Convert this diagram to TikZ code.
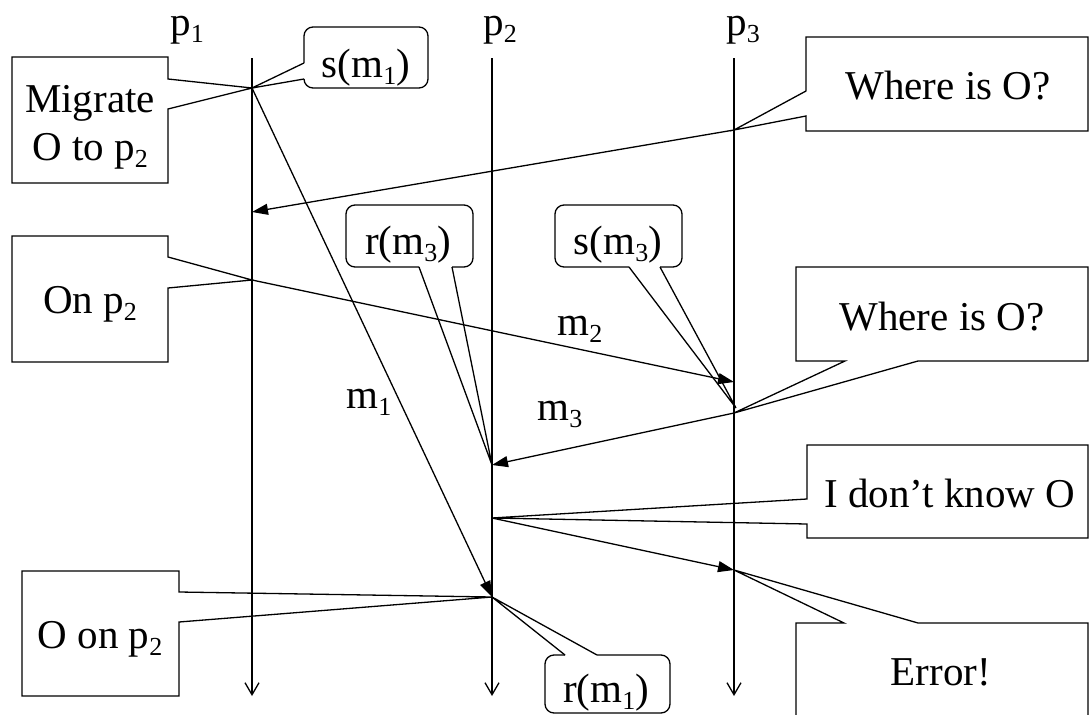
\documentclass[tikz,border=0pt]{standalone}
\usepackage{fontspec}
\setmainfont{Liberation Serif}
\usetikzlibrary{arrows.meta}
\newcommand\sbs[1]{\raisebox{-7pt}{\fontsize{26}{26}\selectfont #1}}
\begin{document}
\begin{tikzpicture}[x=1pt,y=-1pt,
  lbl/.style={font=\fontsize{41}{48}\selectfont, inner sep=0pt, anchor=base},
  life/.style={line width=1.3pt, -{Straight Barb[length=12pt,width=14pt,line width=1.3pt]}},
  msg/.style={line width=1.3pt, -{Triangle[length=16pt,width=11pt]}},
  callout/.style={line width=1.3pt, line join=miter},
  rcallout/.style={line width=1.3pt, rounded corners=9pt},
]
\useasboundingbox (0,0) rectangle (1090,715);
\clip (0,0) rectangle (1090,715);

% lifelines
\coordinate (t1) at (252,58); \coordinate (b1) at (252,696);
\coordinate (t2) at (492,58); \coordinate (b2) at (492,696);
\coordinate (t3) at (734,58); \coordinate (b3) at (734,696);
\draw[life] (t1) -- (b1);
\draw[life] (t2) -- (b2);
\draw[life] (t3) -- (b3);
\node[lbl] (p1) at (187,35) {p\sbs{1}};
\node[lbl] (p2) at (500,35) {p\sbs{2}};
\node[lbl] (p3) at (743,35) {p\sbs{3}};

% events
\coordinate (sm1) at (252,88);
\coordinate (rw) at (252,212);
\coordinate (sm2) at (252,280);
\coordinate (sw) at (734,130);
\coordinate (rm2) at (734,382);
\coordinate (sm3p) at (736,408);
\coordinate (sm3) at (734,413);
\coordinate (rm3) at (492,465);
\coordinate (dk) at (492,518);
\coordinate (rm1) at (492,597);
\coordinate (er) at (734,570);

% messages
\draw[msg] (sm1) -- (rm1);
\draw[msg] (sw) -- (rw);
\draw[msg] (sm2) -- (rm2);
\draw[msg] (sm3) -- (rm3);
\draw[msg] (dk) -- (er);
\node[lbl] (m1) at (369,408) {m\sbs{1}};
\node[lbl] (m2) at (580,335) {m\sbs{2}};
\node[lbl] (m3) at (560,420) {m\sbs{3}};

% square callouts
\draw[callout] (12,57) -- (168,57) -- (168,79) -- (sm1) -- (168,109) -- (168,183) -- (12,183) -- cycle;
\node[lbl] (mig1) at (90,112) {Migrate};
\node[lbl] (mig2) at (90,160) {O to p\sbs{2}};

\draw[callout] (806,37) -- (1088,37) -- (1088,131) -- (806,131) -- (806,116) -- (sw) -- (806,91) -- cycle;
\node[lbl] (w1) at (948,99) {Where is O?};

\draw[callout] (12,236) -- (168,236) -- (168,257) -- (sm2) -- (168,288) -- (168,362) -- (12,362) -- cycle;
\node[lbl] (onp) at (90,313) {On p\sbs{2}};

\draw[callout] (796,267) -- (1088,267) -- (1088,361) -- (918,361) -- (sm3) -- (845,361) -- (796,361) -- cycle;
\node[lbl] (w2) at (942,330) {Where is O?};

\draw[callout] (807,445) -- (1088,445) -- (1088,538) -- (807,538) -- (807,524) -- (dk) -- (807,499) -- cycle;
\node[lbl] (idk) at (950,507) {I don’t know O};

\draw[callout] (22,571) -- (179,571) -- (179,592) -- (rm1) -- (179,622) -- (179,696) -- (22,696) -- cycle;
\node[lbl] (oonp) at (100,648) {O on p\sbs{2}};

\draw[callout] (796,623) -- (844,623) -- (er) -- (918,623) -- (1088,623) -- (1088,730) -- (796,730) -- cycle;
\node[lbl] (err) at (941,685) {Error!};

% rounded callouts
\draw[rcallout] (304,79) -- (304,88) -- (428,88) -- (428,27) -- (304,27) -- (304,63);
\draw[callout] (304,63) -- (sm1) -- (304,79);
\node[lbl] (sm1t) at (366,77) {s(m\sbs{1})};

\draw[rcallout] (452,267) -- (473,267) -- (473,205) -- (346,205) -- (346,267) -- (419,267);
\draw[callout] (419,267) -- (rm3) -- (452,267);
\node[lbl] (rm3t) at (408,254) {r(m\sbs{3})};

\draw[rcallout] (660,267) -- (682,267) -- (682,205) -- (555,205) -- (555,267) -- (629,267);
\draw[callout] (629,267) -- (sm3p) -- (660,267);
\node[lbl] (sm3t) at (618,254) {s(m\sbs{3})};

\draw[rcallout] (565,655) -- (545,655) -- (545,713) -- (670,713) -- (670,655) -- (597,655);
\draw[callout] (597,655) -- (rm1) -- (565,655);
\node[lbl] (rm1t) at (606,702) {r(m\sbs{1})};
\end{tikzpicture}
\end{document}
